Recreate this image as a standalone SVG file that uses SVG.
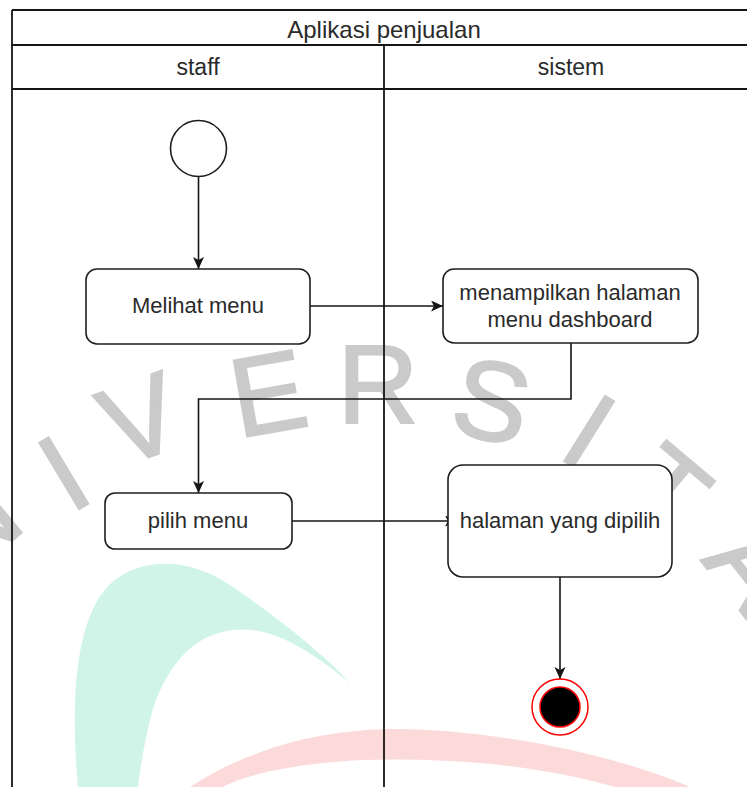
<svg xmlns="http://www.w3.org/2000/svg" width="747" height="787" viewBox="0 0 747 787">
<style>
.wm{font-family:"Liberation Sans",Arial,sans-serif;font-size:112px;fill:#cacaca;stroke:#cacaca;stroke-width:2.2;text-anchor:middle}
.ln{fill:none;stroke:#151515;stroke-width:1.8}
.box{fill:#ffffff;stroke:#1e1e1e;stroke-width:1.6}
.t{font-family:"Liberation Sans",Arial,sans-serif;fill:#2a2a2a;text-anchor:middle}
.n{font-size:22px}
.h{font-size:23px}
.edge{fill:none;stroke:#151515;stroke-width:1.6}
</style>
<defs>
<marker id="arr" markerUnits="userSpaceOnUse" markerWidth="14" markerHeight="12" refX="12" refY="5.5" orient="auto">
<path d="M0,0 L12,5.5 L0,11 L3,5.5 Z" fill="#151515"/>
</marker>
</defs>
<rect width="747" height="787" fill="#ffffff"/>
<g id="watermark">
<path d="M78,787 C70,700 75,610 115,580 C140,560 185,555 230,585 C270,612 320,650 350,683 C315,655 275,625 233,630 C185,635 160,680 150,720 C143,750 140,770 138,787 Z" fill="#d0f5e8"/>
<path d="M190,787 C250,748 320,730 390,729 C480,728 610,752 690,787 L615,787 C545,766 450,757 362,760 C300,763 250,773 222,787 Z" fill="#fddada"/>
<text class="wm" transform="translate(-28,522) rotate(-40)" y="40">N</text>
<text class="wm" transform="translate(63,472) rotate(-31)" y="40">I</text>
<text class="wm" transform="translate(140,418) rotate(-20)" y="40">V</text>
<text class="wm" transform="translate(268,392) rotate(-10)" y="40">E</text>
<text class="wm" transform="translate(378,383) rotate(0)" y="40">R</text>
<text class="wm" transform="translate(492,400) rotate(12)" y="40">S</text>
<text class="wm" transform="translate(590,430) rotate(32)" y="40">I</text>
<text class="wm" transform="translate(667,489) rotate(40)" y="40">T</text>
<text class="wm" transform="translate(755,565) rotate(52)" y="40">A</text>
</g>
<g id="pool">
<line class="ln" x1="12" y1="10" x2="12" y2="787"/>
<line class="ln" x1="12" y1="10" x2="747" y2="10"/>
<line class="ln" x1="12" y1="45" x2="747" y2="45"/>
<line class="ln" x1="12" y1="89" x2="747" y2="89"/>
<line class="ln" x1="384" y1="45" x2="384" y2="787"/>
<text class="t" x="384" y="38" style="font-size:24px">Aplikasi penjualan</text>
<text class="t h" x="198" y="75">staff</text>
<text class="t h" x="571" y="75">sistem</text>
</g>
<g id="connectors">
<path class="edge" d="M198.5,177 L198.5,269" marker-end="url(#arr)"/>
<path class="edge" d="M310,306 L443,306" marker-end="url(#arr)"/>
<path class="edge" d="M571,343 L571,399 L198.5,399 L198.5,493" marker-end="url(#arr)"/>
<path class="edge" d="M292,521 L457,521" marker-end="url(#arr)"/>
<path class="edge" d="M560,577 L560,679" marker-end="url(#arr)"/>
</g>
<g id="start">
<circle cx="198.5" cy="148.5" r="28" class="box"/>
</g>
<g id="melihat">
<rect class="box" x="86" y="269" width="224" height="75" rx="11"/>
<text class="t n" x="198" y="313">Melihat menu</text>
</g>
<g id="menampilkan">
<rect class="box" x="443" y="269" width="255" height="74" rx="11"/>
<text class="t n" x="570" y="300">menampilkan halaman</text>
<text class="t n" x="570" y="327">menu dashboard</text>
</g>
<g id="pilih">
<rect class="box" x="105" y="493" width="187" height="56" rx="10"/>
<text class="t n" x="198" y="528">pilih menu</text>
</g>
<g id="halaman">
<rect class="box" x="448" y="465" width="224" height="112" rx="15"/>
<text class="t n" x="560" y="528">halaman yang dipilih</text>
</g>
<g id="end">
<circle cx="560" cy="707" r="28" fill="#ffffff" stroke="#ff0000" stroke-width="1.5"/>
<circle cx="560" cy="707" r="20" fill="#000000" stroke="#ff0000" stroke-width="1.5"/>
</g>
</svg>
